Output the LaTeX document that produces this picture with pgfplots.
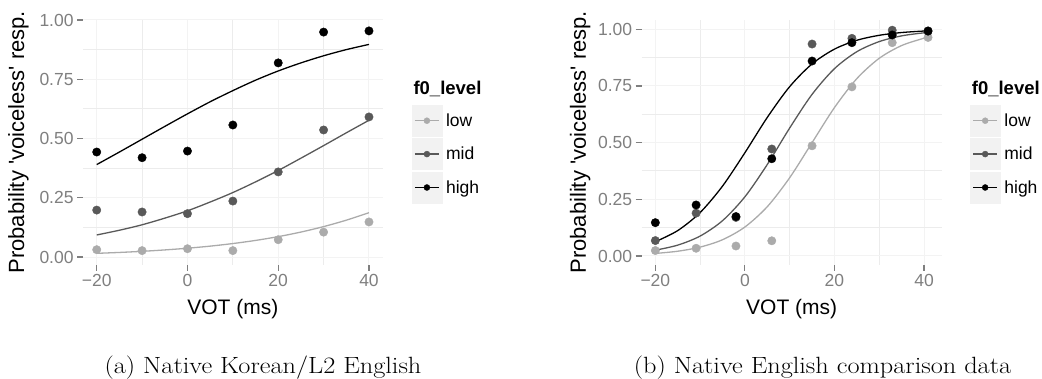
\documentclass[border=0pt]{standalone}
\usepackage{fontspec}
\usepackage{graphicx}
\usepackage{pgfplots}
\pgfplotsset{compat=1.18}
\newfontfamily\af{Liberation Sans}
\definecolor{cLow}{HTML}{ABABAB}
\definecolor{cMid}{HTML}{595959}
\definecolor{cHigh}{HTML}{000000}
\definecolor{tickgray}{HTML}{7F7F7F}
\definecolor{gridmaj}{HTML}{F3F3F3}
\definecolor{gridmin}{HTML}{ECECEC}
\definecolor{keybg}{HTML}{F2F2F2}

\pgfplotsset{
  ggpanel/.style={
    scale only axis,
    clip mode=individual,
    axis line style={draw=none},
    tick pos=left,
    tick align=outside,
    major tick length=6pt,
    minor tick length=0pt,
    tick style={draw=tickgray, line width=1.1pt},
    grid=both,
    major grid style={draw=gridmaj, line width=1pt},
    minor grid style={draw=gridmin, line width=1pt},
    minor x tick num=1,
    minor y tick num=1,
    xtick={-20,0,20,40},
    xticklabels={−20,0,20,40},
    ytick={0,0.25,0.5,0.75,1},
    yticklabels={0.00,0.25,0.50,0.75,1.00},
    tick label style={font=\af\fontsize{17.5}{20}\selectfont, text=tickgray},
    xlabel={VOT (ms)},
    ylabel={Probability 'voiceless' resp.},
    xlabel style={at={(axis description cs:0.5,-0.2020)}, anchor=base,
      font=\af\fontsize{21}{24}\selectfont, text=black},
    legend style={draw=none, fill=none, inner sep=0pt, outer sep=0pt,
      row sep=2pt, anchor=north west,
      font=\af\fontsize{17.5}{20}\selectfont,
      /tikz/every odd column/.append style={column sep=2pt}},
    legend cell align=left,
  },
  curve/.style={no markers, smooth, line width=1.3pt},
  pts/.style={only marks, mark=*, mark size=4.2pt},
}

\begin{document}
\begin{tikzpicture}
\path[use as bounding box] (0pt,0pt) rectangle (1042pt,-379pt);

% ---------------- Panel (a) ----------------
\begin{axis}[ggpanel,
  at={(83.1pt,-264.6pt)}, anchor=south west,
  width=299.5pt, height=244.6pt,
  xmin=-23, xmax=43, ymin=-0.032, ymax=1.0,
  ylabel style={at={(axis description cs:-0.1973,0.5)}, anchor=base, rotate=0,
    font=\af\fontsize{22}{25}\selectfont, text=black},
  legend style={at={(1.0972,0.6525)}},
]
\addlegendimage{legend image code/.code={
  \fill[keybg] (0pt,-15.5pt) rectangle (30pt,15.5pt);
  \draw[cLow, line width=1.4pt] (3pt,0pt) -- (27pt,0pt);
  \fill[cLow] (15pt,0pt) circle (3pt);}}
\addlegendentry{low}
\addlegendimage{legend image code/.code={
  \fill[keybg] (0pt,-15.5pt) rectangle (30pt,15.5pt);
  \draw[cMid, line width=1.4pt] (3pt,0pt) -- (27pt,0pt);
  \fill[cMid] (15pt,0pt) circle (3pt);}}
\addlegendentry{mid}
\addlegendimage{legend image code/.code={
  \fill[keybg] (0pt,-15.5pt) rectangle (30pt,15.5pt);
  \draw[cHigh, line width=1.4pt] (3pt,0pt) -- (27pt,0pt);
  \fill[cHigh] (15pt,0pt) circle (3pt);}}
\addlegendentry{high}

\addplot[curve, cLow, forget plot] coordinates {
(-20,0.0155)(-15,0.0193)(-10,0.0240)(-5,0.0299)(0,0.0371)(5,0.0459)(10,0.0568)
(15,0.0700)(20,0.0860)(25,0.1053)(30,0.1283)(35,0.1554)(40,0.1870)};
\addplot[curve, cMid, forget plot] coordinates {
(-20,0.093)(-15,0.113)(-10,0.136)(-5,0.164)(0,0.195)(5,0.232)(10,0.272)
(15,0.317)(20,0.365)(25,0.417)(30,0.470)(35,0.524)(40,0.577)};
\addplot[curve, cHigh, forget plot] coordinates {
(-20,0.390)(-15,0.443)(-10,0.497)(-5,0.551)(0,0.604)(5,0.655)(10,0.702)
(15,0.746)(20,0.785)(25,0.819)(30,0.849)(35,0.875)(40,0.897)};

\addplot[pts, cLow, forget plot] coordinates {
(-20,0.031)(-10,0.027)(0,0.035)(10,0.027)(20,0.073)(30,0.105)(40,0.148)};
\addplot[pts, cMid, forget plot] coordinates {
(-20,0.198)(-10,0.190)(0,0.183)(10,0.236)(20,0.359)(30,0.536)(40,0.591)};
\addplot[pts, cHigh, forget plot] coordinates {
(-20,0.443)(-10,0.419)(0,0.447)(10,0.557)(20,0.819)(30,0.949)(40,0.954)};

\node[anchor=base west, font=\af\bfseries\fontsize{18.5}{22}\selectfont]
  at (axis description cs:1.0915,0.6934) {f0\_level};
\end{axis}

% ---------------- Panel (b) ----------------
\begin{axis}[ggpanel,
  at={(641.7pt,-264.6pt)}, anchor=south west,
  width=300pt, height=244.6pt,
  xmin=-23.05, xmax=43.95, ymin=-0.038, ymax=1.041,
  ylabel style={at={(axis description cs:-0.1857,0.5)}, anchor=base, rotate=0,
    font=\af\fontsize{22}{25}\selectfont, text=black},
  legend style={at={(1.0943,0.6525)}},
]
\addlegendimage{legend image code/.code={
  \fill[keybg] (0pt,-15.5pt) rectangle (30pt,15.5pt);
  \draw[cLow, line width=1.4pt] (3pt,0pt) -- (27pt,0pt);
  \fill[cLow] (15pt,0pt) circle (3pt);}}
\addlegendentry{low}
\addlegendimage{legend image code/.code={
  \fill[keybg] (0pt,-15.5pt) rectangle (30pt,15.5pt);
  \draw[cMid, line width=1.4pt] (3pt,0pt) -- (27pt,0pt);
  \fill[cMid] (15pt,0pt) circle (3pt);}}
\addlegendentry{mid}
\addlegendimage{legend image code/.code={
  \fill[keybg] (0pt,-15.5pt) rectangle (30pt,15.5pt);
  \draw[cHigh, line width=1.4pt] (3pt,0pt) -- (27pt,0pt);
  \fill[cHigh] (15pt,0pt) circle (3pt);}}
\addlegendentry{high}

\addplot[curve, cLow, forget plot] coordinates {
(-20,0.0112)(-15,0.0210)(-10,0.0392)(-5,0.0717)(0,0.1279)(5,0.2175)(10,0.3453)
(15,0.5000)(20,0.6547)(25,0.7825)(30,0.8721)(35,0.9283)(40,0.9608)(40.9,0.9650)};
\addplot[curve, cMid, forget plot] coordinates {
(-20,0.0256)(-15,0.0479)(-10,0.0879)(-5,0.1558)(0,0.2611)(5,0.4037)(10,0.5646)
(15,0.7130)(20,0.8264)(25,0.9012)(30,0.9458)(35,0.9710)(40,0.9846)(40.9,0.9863)};
\addplot[curve, cHigh, forget plot] coordinates {
(-20,0.0630)(-15,0.1121)(-10,0.1917)(-5,0.3083)(0,0.4556)(5,0.6113)(10,0.7471)
(15,0.8473)(20,0.9125)(25,0.9515)(30,0.9735)(35,0.9857)(40,0.9924)(40.9,0.9932)};

\addplot[pts, cLow, forget plot] coordinates {
(-20,0.024)(-10.9,0.034)(-2.0,0.044)(6.0,0.067)(15.0,0.486)(23.9,0.746)(32.9,0.941)(40.9,0.964)};
\addplot[pts, cMid, forget plot] coordinates {
(-20,0.068)(-10.9,0.189)(-2.0,0.170)(6.0,0.472)(15.0,0.935)(23.9,0.960)(32.9,0.996)(40.9,0.993)};
\addplot[pts, cHigh, forget plot] coordinates {
(-20,0.147)(-10.9,0.225)(-2.0,0.174)(6.0,0.429)(15.0,0.860)(23.9,0.941)(32.9,0.975)(40.9,0.992)};

\node[anchor=base west, font=\af\bfseries\fontsize{18.5}{22}\selectfont]
  at (axis description cs:1.0887,0.6934) {f0\_level};
\end{axis}

% ---------------- Captions ----------------
\node[anchor=base] at (263pt,-373.3pt)
  {\scalebox{1.12}[1]{\fontsize{23.5}{28}\selectfont (a) Native Korean/L2 English}};
\node[anchor=base] at (822.5pt,-373.3pt)
  {\scalebox{1.12}[1]{\fontsize{23.5}{28}\selectfont (b) Native English comparison data}};
\end{tikzpicture}
\end{document}
